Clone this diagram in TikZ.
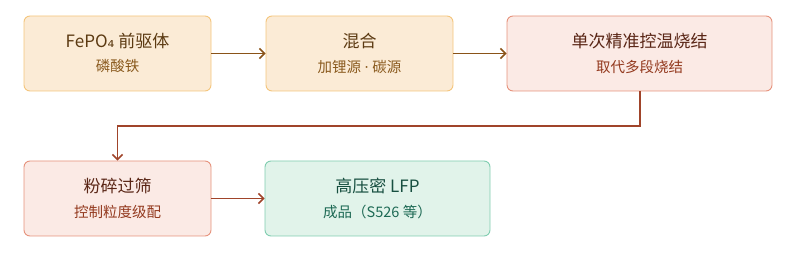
\documentclass[tikz,border=0pt]{standalone}
\usepackage{fontspec}
\setmainfont{Noto Sans CJK SC}
\newfontfamily\lat{DejaVu Sans}
\usetikzlibrary{arrows.meta}
\definecolor{ofill}{HTML}{FBEBD6}
\definecolor{odraw}{HTML}{F4C57C}
\definecolor{otext}{HTML}{5C3A12}
\definecolor{osub}{HTML}{8A5A1E}
\definecolor{rfill}{HTML}{FBEAE5}
\definecolor{rdraw}{HTML}{E6927C}
\definecolor{rtext}{HTML}{5A2616}
\definecolor{rsub}{HTML}{93391E}
\definecolor{gfill}{HTML}{E1F3EA}
\definecolor{gdraw}{HTML}{80CDB0}
\definecolor{gtext}{HTML}{174F40}
\definecolor{gsub}{HTML}{1E6A55}
\definecolor{oarrow}{HTML}{8A5318}
\definecolor{rarrow}{HTML}{A0442A}
\tikzset{
  x=1pt,y=1pt,
  box/.style={draw, rounded corners=6pt, line width=0.9pt, inner sep=0pt},
  obox/.style={box, fill=ofill, draw=odraw},
  rbox/.style={box, fill=rfill, draw=rdraw},
  gbox/.style={box, fill=gfill, draw=gdraw},
  ttl/.style={font=\fontsize{17}{20}\selectfont, anchor=center},
  sub/.style={font=\fontsize{14.5}{17}\selectfont, anchor=center},
  conn/.style={line width=1.6pt, -{Straight Barb[length=5pt,width=10pt,line width=1.6pt]}},
}
\begin{document}
\begin{tikzpicture}
\useasboundingbox (0,0) rectangle (800,-256);
% boxes
\node[obox, minimum width=187pt, minimum height=75pt] (b1) at (117.5,-53.5) {};
\node[obox, minimum width=187pt, minimum height=75pt] (b2) at (359.5,-53.5) {};
\node[rbox, minimum width=265pt, minimum height=75pt] (b3) at (639.5,-53.5) {};
\node[rbox, minimum width=187pt, minimum height=75pt] (b4) at (117.5,-198.5) {};
\node[gbox, minimum width=225pt, minimum height=75pt] (b5) at (377.5,-198.5) {};
% texts
\node[ttl, text=otext] (t1) at (117.5,-41) {FePO{\lat ₄} 前驱体};
\node[sub, text=osub] (s1) at (117.5,-66.5) {磷酸铁};
\node[ttl, text=otext] (t2) at (359.5,-41) {混合};
\node[sub, text=osub] (s2) at (359.5,-66.5) {加锂源 {\lat ·} 碳源};
\node[ttl, text=rtext] (t3) at (639.5,-41) {单次精准控温烧结};
\node[sub, text=rsub] (s3) at (639.5,-66.5) {取代多段烧结};
\node[ttl, text=rtext] (t4) at (117.5,-186) {粉碎过筛};
\node[sub, text=rsub] (s4) at (117.5,-211.5) {控制粒度级配};
\node[ttl, text=gtext] (t5) at (377.5,-186) {高压密 LFP};
\node[sub, text=gsub] (s5) at (377.5,-211.5) {成品（S526 等）};
% connectors
\draw[conn, draw=oarrow] (b1.east) -- (b2.west);
\draw[conn, draw=oarrow] (b2.east) -- (b3.west);
\coordinate (c1) at (640,-126);
\coordinate (c2) at (117.5,-126);
\draw[conn, draw=rarrow] (b3.south -| c1) -- (c1) -- (c2) -- (b4.north);
\draw[conn, draw=rarrow] (b4.east) -- (b5.west);
\end{tikzpicture}
\end{document}
